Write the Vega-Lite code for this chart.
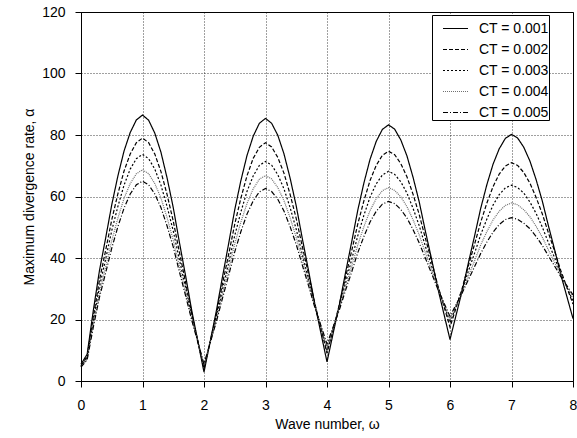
{
"$schema": "https://vega.github.io/schema/vega-lite/v6.json",
"width": 492, "height": 369,
"autosize": {"type": "none"},
"padding": {"left": 81, "top": 12, "right": 4, "bottom": 57},
"background": "white",
"config": {
  "font": "Liberation Sans",
  "view": {"stroke": "black", "strokeWidth": 1},
  "axis": {"labelFont": "Liberation Sans", "labelFontSize": 14, "labelColor": "black", "titleFont": "Liberation Sans", "titleFontSize": 14, "titleFontWeight": "normal", "titleColor": "black", "domainColor": "black", "tickColor": "black", "tickSize": 6, "gridColor": "#000", "gridDash": [1, 2], "gridWidth": 1, "gridOpacity": 0.75},
  "legend": {"orient": "none", "legendX": 351, "legendY": 3, "strokeColor": "black", "fillColor": "white", "padding": 0, "cornerRadius": 0, "symbolType": "stroke", "symbolSize": 625, "symbolStrokeWidth": 1.2, "symbolOffset": 10, "labelOffset": 10, "labelFontSize": 14, "labelFont": "Liberation Sans", "labelColor": "black", "rowPadding": -5}
},
"data": {"values": [
{"w":0,"a":5.5,"c":"CT = 0.001"},{"w":0.1,"a":8.7,"c":"CT = 0.001"},{"w":0.2,"a":22.9,"c":"CT = 0.001"},{"w":0.3,"a":35.9,"c":"CT = 0.001"},{"w":0.4,"a":46.4,"c":"CT = 0.001"},{"w":0.5,"a":57.3,"c":"CT = 0.001"},{"w":0.6,"a":66.7,"c":"CT = 0.001"},{"w":0.7,"a":74.8,"c":"CT = 0.001"},{"w":0.8,"a":80.8,"c":"CT = 0.001"},{"w":0.9,"a":84.9,"c":"CT = 0.001"},
{"w":1.0,"a":86.5,"c":"CT = 0.001"},{"w":1.1,"a":84.8,"c":"CT = 0.001"},{"w":1.2,"a":80.6,"c":"CT = 0.001"},{"w":1.3,"a":74.4,"c":"CT = 0.001"},{"w":1.4,"a":66.0,"c":"CT = 0.001"},{"w":1.5,"a":56.4,"c":"CT = 0.001"},{"w":1.6,"a":45.1,"c":"CT = 0.001"},{"w":1.7,"a":34.3,"c":"CT = 0.001"},{"w":1.8,"a":23.0,"c":"CT = 0.001"},{"w":1.9,"a":12.9,"c":"CT = 0.001"},
{"w":2.0,"a":2.9,"c":"CT = 0.001"},{"w":2.1,"a":12.8,"c":"CT = 0.001"},{"w":2.2,"a":22.7,"c":"CT = 0.001"},{"w":2.3,"a":33.8,"c":"CT = 0.001"},{"w":2.4,"a":44.6,"c":"CT = 0.001"},{"w":2.5,"a":55.7,"c":"CT = 0.001"},{"w":2.6,"a":65.2,"c":"CT = 0.001"},{"w":2.7,"a":73.4,"c":"CT = 0.001"},{"w":2.8,"a":79.6,"c":"CT = 0.001"},{"w":2.9,"a":83.8,"c":"CT = 0.001"},
{"w":3.0,"a":85.4,"c":"CT = 0.001"},{"w":3.1,"a":83.8,"c":"CT = 0.001"},{"w":3.2,"a":79.9,"c":"CT = 0.001"},{"w":3.3,"a":73.9,"c":"CT = 0.001"},{"w":3.4,"a":66.0,"c":"CT = 0.001"},{"w":3.5,"a":56.9,"c":"CT = 0.001"},{"w":3.6,"a":46.2,"c":"CT = 0.001"},{"w":3.7,"a":35.9,"c":"CT = 0.001"},{"w":3.8,"a":25.2,"c":"CT = 0.001"},{"w":3.9,"a":15.7,"c":"CT = 0.001"},
{"w":4.0,"a":6.2,"c":"CT = 0.001"},{"w":4.1,"a":15.5,"c":"CT = 0.001"},{"w":4.2,"a":24.7,"c":"CT = 0.001"},{"w":4.3,"a":35.1,"c":"CT = 0.001"},{"w":4.4,"a":45.1,"c":"CT = 0.001"},{"w":4.5,"a":55.5,"c":"CT = 0.001"},{"w":4.6,"a":64.4,"c":"CT = 0.001"},{"w":4.7,"a":72.1,"c":"CT = 0.001"},{"w":4.8,"a":77.9,"c":"CT = 0.001"},{"w":4.9,"a":81.8,"c":"CT = 0.001"},
{"w":5.0,"a":83.3,"c":"CT = 0.001"},{"w":5.1,"a":81.9,"c":"CT = 0.001"},{"w":5.2,"a":78.4,"c":"CT = 0.001"},{"w":5.3,"a":73.2,"c":"CT = 0.001"},{"w":5.4,"a":66.2,"c":"CT = 0.001"},{"w":5.5,"a":58.2,"c":"CT = 0.001"},{"w":5.6,"a":48.7,"c":"CT = 0.001"},{"w":5.7,"a":39.7,"c":"CT = 0.001"},{"w":5.8,"a":30.3,"c":"CT = 0.001"},{"w":5.9,"a":21.9,"c":"CT = 0.001"},
{"w":6.0,"a":13.5,"c":"CT = 0.001"},{"w":6.1,"a":21.5,"c":"CT = 0.001"},{"w":6.2,"a":29.5,"c":"CT = 0.001"},{"w":6.3,"a":38.5,"c":"CT = 0.001"},{"w":6.4,"a":47.2,"c":"CT = 0.001"},{"w":6.5,"a":56.2,"c":"CT = 0.001"},{"w":6.6,"a":63.9,"c":"CT = 0.001"},{"w":6.7,"a":70.5,"c":"CT = 0.001"},{"w":6.8,"a":75.5,"c":"CT = 0.001"},{"w":6.9,"a":78.9,"c":"CT = 0.001"},
{"w":7.0,"a":80.2,"c":"CT = 0.001"},{"w":7.1,"a":79.0,"c":"CT = 0.001"},{"w":7.2,"a":76.0,"c":"CT = 0.001"},{"w":7.3,"a":71.5,"c":"CT = 0.001"},{"w":7.4,"a":65.5,"c":"CT = 0.001"},{"w":7.5,"a":58.6,"c":"CT = 0.001"},{"w":7.6,"a":50.5,"c":"CT = 0.001"},{"w":7.7,"a":42.8,"c":"CT = 0.001"},{"w":7.8,"a":34.7,"c":"CT = 0.001"},{"w":7.9,"a":27.5,"c":"CT = 0.001"},{"w":8.0,"a":20.3,"c":"CT = 0.001"},

{"w":0,"a":5.0,"c":"CT = 0.002"},{"w":0.1,"a":8.0,"c":"CT = 0.002"},{"w":0.2,"a":20.9,"c":"CT = 0.002"},{"w":0.3,"a":32.8,"c":"CT = 0.002"},{"w":0.4,"a":42.4,"c":"CT = 0.002"},{"w":0.5,"a":52.4,"c":"CT = 0.002"},{"w":0.6,"a":60.9,"c":"CT = 0.002"},{"w":0.7,"a":68.3,"c":"CT = 0.002"},{"w":0.8,"a":73.8,"c":"CT = 0.002"},{"w":0.9,"a":77.5,"c":"CT = 0.002"},
{"w":1.0,"a":79.0,"c":"CT = 0.002"},{"w":1.1,"a":77.5,"c":"CT = 0.002"},{"w":1.2,"a":73.8,"c":"CT = 0.002"},{"w":1.3,"a":68.1,"c":"CT = 0.002"},{"w":1.4,"a":60.6,"c":"CT = 0.002"},{"w":1.5,"a":52.0,"c":"CT = 0.002"},{"w":1.6,"a":41.9,"c":"CT = 0.002"},{"w":1.7,"a":32.1,"c":"CT = 0.002"},{"w":1.8,"a":22.0,"c":"CT = 0.002"},{"w":1.9,"a":13.0,"c":"CT = 0.002"},
{"w":2.0,"a":4.0,"c":"CT = 0.002"},{"w":2.1,"a":12.8,"c":"CT = 0.002"},{"w":2.2,"a":21.6,"c":"CT = 0.002"},{"w":2.3,"a":31.6,"c":"CT = 0.002"},{"w":2.4,"a":41.1,"c":"CT = 0.002"},{"w":2.5,"a":51.0,"c":"CT = 0.002"},{"w":2.6,"a":59.5,"c":"CT = 0.002"},{"w":2.7,"a":66.8,"c":"CT = 0.002"},{"w":2.8,"a":72.4,"c":"CT = 0.002"},{"w":2.9,"a":76.0,"c":"CT = 0.002"},
{"w":3.0,"a":77.5,"c":"CT = 0.002"},{"w":3.1,"a":76.1,"c":"CT = 0.002"},{"w":3.2,"a":72.7,"c":"CT = 0.002"},{"w":3.3,"a":67.6,"c":"CT = 0.002"},{"w":3.4,"a":60.7,"c":"CT = 0.002"},{"w":3.5,"a":52.8,"c":"CT = 0.002"},{"w":3.6,"a":43.6,"c":"CT = 0.002"},{"w":3.7,"a":34.7,"c":"CT = 0.002"},{"w":3.8,"a":25.4,"c":"CT = 0.002"},{"w":3.9,"a":17.2,"c":"CT = 0.002"},
{"w":4.0,"a":9.0,"c":"CT = 0.002"},{"w":4.1,"a":16.9,"c":"CT = 0.002"},{"w":4.2,"a":24.8,"c":"CT = 0.002"},{"w":4.3,"a":33.6,"c":"CT = 0.002"},{"w":4.4,"a":42.2,"c":"CT = 0.002"},{"w":4.5,"a":51.0,"c":"CT = 0.002"},{"w":4.6,"a":58.6,"c":"CT = 0.002"},{"w":4.7,"a":65.2,"c":"CT = 0.002"},{"w":4.8,"a":70.1,"c":"CT = 0.002"},{"w":4.9,"a":73.4,"c":"CT = 0.002"},
{"w":5.0,"a":74.7,"c":"CT = 0.002"},{"w":5.1,"a":73.6,"c":"CT = 0.002"},{"w":5.2,"a":70.7,"c":"CT = 0.002"},{"w":5.3,"a":66.4,"c":"CT = 0.002"},{"w":5.4,"a":60.7,"c":"CT = 0.002"},{"w":5.5,"a":54.1,"c":"CT = 0.002"},{"w":5.6,"a":46.4,"c":"CT = 0.002"},{"w":5.7,"a":39.0,"c":"CT = 0.002"},{"w":5.8,"a":31.2,"c":"CT = 0.002"},{"w":5.9,"a":24.4,"c":"CT = 0.002"},
{"w":6.0,"a":17.5,"c":"CT = 0.002"},{"w":6.1,"a":23.9,"c":"CT = 0.002"},{"w":6.2,"a":30.3,"c":"CT = 0.002"},{"w":6.3,"a":37.6,"c":"CT = 0.002"},{"w":6.4,"a":44.5,"c":"CT = 0.002"},{"w":6.5,"a":51.7,"c":"CT = 0.002"},{"w":6.6,"a":57.9,"c":"CT = 0.002"},{"w":6.7,"a":63.2,"c":"CT = 0.002"},{"w":6.8,"a":67.3,"c":"CT = 0.002"},{"w":6.9,"a":69.9,"c":"CT = 0.002"},
{"w":7.0,"a":71.0,"c":"CT = 0.002"},{"w":7.1,"a":70.1,"c":"CT = 0.002"},{"w":7.2,"a":67.8,"c":"CT = 0.002"},{"w":7.3,"a":64.3,"c":"CT = 0.002"},{"w":7.4,"a":59.7,"c":"CT = 0.002"},{"w":7.5,"a":54.4,"c":"CT = 0.002"},{"w":7.6,"a":48.2,"c":"CT = 0.002"},{"w":7.7,"a":42.3,"c":"CT = 0.002"},{"w":7.8,"a":36.0,"c":"CT = 0.002"},{"w":7.9,"a":30.5,"c":"CT = 0.002"},{"w":8.0,"a":25.0,"c":"CT = 0.002"},

{"w":0,"a":4.8,"c":"CT = 0.003"},{"w":0.1,"a":7.6,"c":"CT = 0.003"},{"w":0.2,"a":19.6,"c":"CT = 0.003"},{"w":0.3,"a":30.6,"c":"CT = 0.003"},{"w":0.4,"a":39.6,"c":"CT = 0.003"},{"w":0.5,"a":48.9,"c":"CT = 0.003"},{"w":0.6,"a":56.8,"c":"CT = 0.003"},{"w":0.7,"a":63.7,"c":"CT = 0.003"},{"w":0.8,"a":68.9,"c":"CT = 0.003"},{"w":0.9,"a":72.3,"c":"CT = 0.003"},
{"w":1.0,"a":73.7,"c":"CT = 0.003"},{"w":1.1,"a":72.3,"c":"CT = 0.003"},{"w":1.2,"a":68.9,"c":"CT = 0.003"},{"w":1.3,"a":63.7,"c":"CT = 0.003"},{"w":1.4,"a":56.7,"c":"CT = 0.003"},{"w":1.5,"a":48.8,"c":"CT = 0.003"},{"w":1.6,"a":39.4,"c":"CT = 0.003"},{"w":1.7,"a":30.5,"c":"CT = 0.003"},{"w":1.8,"a":21.1,"c":"CT = 0.003"},{"w":1.9,"a":12.8,"c":"CT = 0.003"},
{"w":2.0,"a":4.5,"c":"CT = 0.003"},{"w":2.1,"a":12.5,"c":"CT = 0.003"},{"w":2.2,"a":20.6,"c":"CT = 0.003"},{"w":2.3,"a":29.6,"c":"CT = 0.003"},{"w":2.4,"a":38.3,"c":"CT = 0.003"},{"w":2.5,"a":47.3,"c":"CT = 0.003"},{"w":2.6,"a":55.0,"c":"CT = 0.003"},{"w":2.7,"a":61.7,"c":"CT = 0.003"},{"w":2.8,"a":66.7,"c":"CT = 0.003"},{"w":2.9,"a":70.1,"c":"CT = 0.003"},
{"w":3.0,"a":71.4,"c":"CT = 0.003"},{"w":3.1,"a":70.2,"c":"CT = 0.003"},{"w":3.2,"a":67.1,"c":"CT = 0.003"},{"w":3.3,"a":62.5,"c":"CT = 0.003"},{"w":3.4,"a":56.4,"c":"CT = 0.003"},{"w":3.5,"a":49.3,"c":"CT = 0.003"},{"w":3.6,"a":41.0,"c":"CT = 0.003"},{"w":3.7,"a":33.0,"c":"CT = 0.003"},{"w":3.8,"a":24.7,"c":"CT = 0.003"},{"w":3.9,"a":17.4,"c":"CT = 0.003"},
{"w":4.0,"a":10.0,"c":"CT = 0.003"},{"w":4.1,"a":17.0,"c":"CT = 0.003"},{"w":4.2,"a":24.0,"c":"CT = 0.003"},{"w":4.3,"a":31.8,"c":"CT = 0.003"},{"w":4.4,"a":39.4,"c":"CT = 0.003"},{"w":4.5,"a":47.2,"c":"CT = 0.003"},{"w":4.6,"a":53.9,"c":"CT = 0.003"},{"w":4.7,"a":59.8,"c":"CT = 0.003"},{"w":4.8,"a":64.1,"c":"CT = 0.003"},{"w":4.9,"a":67.0,"c":"CT = 0.003"},
{"w":5.0,"a":68.2,"c":"CT = 0.003"},{"w":5.1,"a":67.2,"c":"CT = 0.003"},{"w":5.2,"a":64.8,"c":"CT = 0.003"},{"w":5.3,"a":61.1,"c":"CT = 0.003"},{"w":5.4,"a":56.1,"c":"CT = 0.003"},{"w":5.5,"a":50.5,"c":"CT = 0.003"},{"w":5.6,"a":43.8,"c":"CT = 0.003"},{"w":5.7,"a":37.5,"c":"CT = 0.003"},{"w":5.8,"a":30.8,"c":"CT = 0.003"},{"w":5.9,"a":24.9,"c":"CT = 0.003"},
{"w":6.0,"a":19.0,"c":"CT = 0.003"},{"w":6.1,"a":24.4,"c":"CT = 0.003"},{"w":6.2,"a":29.7,"c":"CT = 0.003"},{"w":6.3,"a":35.8,"c":"CT = 0.003"},{"w":6.4,"a":41.6,"c":"CT = 0.003"},{"w":6.5,"a":47.6,"c":"CT = 0.003"},{"w":6.6,"a":52.7,"c":"CT = 0.003"},{"w":6.7,"a":57.2,"c":"CT = 0.003"},{"w":6.8,"a":60.6,"c":"CT = 0.003"},{"w":6.9,"a":62.8,"c":"CT = 0.003"},
{"w":7.0,"a":63.7,"c":"CT = 0.003"},{"w":7.1,"a":62.9,"c":"CT = 0.003"},{"w":7.2,"a":61.1,"c":"CT = 0.003"},{"w":7.3,"a":58.2,"c":"CT = 0.003"},{"w":7.4,"a":54.5,"c":"CT = 0.003"},{"w":7.5,"a":50.1,"c":"CT = 0.003"},{"w":7.6,"a":45.0,"c":"CT = 0.003"},{"w":7.7,"a":40.1,"c":"CT = 0.003"},{"w":7.8,"a":35.0,"c":"CT = 0.003"},{"w":7.9,"a":30.5,"c":"CT = 0.003"},{"w":8.0,"a":26.0,"c":"CT = 0.003"},

{"w":0,"a":4.6,"c":"CT = 0.004"},{"w":0.1,"a":7.2,"c":"CT = 0.004"},{"w":0.2,"a":18.4,"c":"CT = 0.004"},{"w":0.3,"a":28.6,"c":"CT = 0.004"},{"w":0.4,"a":37.0,"c":"CT = 0.004"},{"w":0.5,"a":45.6,"c":"CT = 0.004"},{"w":0.6,"a":53.0,"c":"CT = 0.004"},{"w":0.7,"a":59.4,"c":"CT = 0.004"},{"w":0.8,"a":64.2,"c":"CT = 0.004"},{"w":0.9,"a":67.4,"c":"CT = 0.004"},
{"w":1.0,"a":68.7,"c":"CT = 0.004"},{"w":1.1,"a":67.4,"c":"CT = 0.004"},{"w":1.2,"a":64.2,"c":"CT = 0.004"},{"w":1.3,"a":59.5,"c":"CT = 0.004"},{"w":1.4,"a":53.1,"c":"CT = 0.004"},{"w":1.5,"a":45.8,"c":"CT = 0.004"},{"w":1.6,"a":37.2,"c":"CT = 0.004"},{"w":1.7,"a":28.9,"c":"CT = 0.004"},{"w":1.8,"a":20.3,"c":"CT = 0.004"},{"w":1.9,"a":12.6,"c":"CT = 0.004"},
{"w":2.0,"a":5.0,"c":"CT = 0.004"},{"w":2.1,"a":12.4,"c":"CT = 0.004"},{"w":2.2,"a":19.8,"c":"CT = 0.004"},{"w":2.3,"a":28.2,"c":"CT = 0.004"},{"w":2.4,"a":36.2,"c":"CT = 0.004"},{"w":2.5,"a":44.6,"c":"CT = 0.004"},{"w":2.6,"a":51.7,"c":"CT = 0.004"},{"w":2.7,"a":57.8,"c":"CT = 0.004"},{"w":2.8,"a":62.5,"c":"CT = 0.004"},{"w":2.9,"a":65.6,"c":"CT = 0.004"},
{"w":3.0,"a":66.8,"c":"CT = 0.004"},{"w":3.1,"a":65.7,"c":"CT = 0.004"},{"w":3.2,"a":62.9,"c":"CT = 0.004"},{"w":3.3,"a":58.7,"c":"CT = 0.004"},{"w":3.4,"a":53.1,"c":"CT = 0.004"},{"w":3.5,"a":46.7,"c":"CT = 0.004"},{"w":3.6,"a":39.2,"c":"CT = 0.004"},{"w":3.7,"a":31.9,"c":"CT = 0.004"},{"w":3.8,"a":24.4,"c":"CT = 0.004"},{"w":3.9,"a":17.7,"c":"CT = 0.004"},
{"w":4.0,"a":11.0,"c":"CT = 0.004"},{"w":4.1,"a":17.2,"c":"CT = 0.004"},{"w":4.2,"a":23.5,"c":"CT = 0.004"},{"w":4.3,"a":30.5,"c":"CT = 0.004"},{"w":4.4,"a":37.2,"c":"CT = 0.004"},{"w":4.5,"a":44.2,"c":"CT = 0.004"},{"w":4.6,"a":50.2,"c":"CT = 0.004"},{"w":4.7,"a":55.4,"c":"CT = 0.004"},{"w":4.8,"a":59.3,"c":"CT = 0.004"},{"w":4.9,"a":61.9,"c":"CT = 0.004"},
{"w":5.0,"a":62.9,"c":"CT = 0.004"},{"w":5.1,"a":62.0,"c":"CT = 0.004"},{"w":5.2,"a":59.9,"c":"CT = 0.004"},{"w":5.3,"a":56.7,"c":"CT = 0.004"},{"w":5.4,"a":52.4,"c":"CT = 0.004"},{"w":5.5,"a":47.5,"c":"CT = 0.004"},{"w":5.6,"a":41.7,"c":"CT = 0.004"},{"w":5.7,"a":36.1,"c":"CT = 0.004"},{"w":5.8,"a":30.3,"c":"CT = 0.004"},{"w":5.9,"a":25.1,"c":"CT = 0.004"},
{"w":6.0,"a":20.0,"c":"CT = 0.004"},{"w":6.1,"a":24.5,"c":"CT = 0.004"},{"w":6.2,"a":29.1,"c":"CT = 0.004"},{"w":6.3,"a":34.2,"c":"CT = 0.004"},{"w":6.4,"a":39.1,"c":"CT = 0.004"},{"w":6.5,"a":44.3,"c":"CT = 0.004"},{"w":6.6,"a":48.6,"c":"CT = 0.004"},{"w":6.7,"a":52.4,"c":"CT = 0.004"},{"w":6.8,"a":55.2,"c":"CT = 0.004"},{"w":6.9,"a":57.1,"c":"CT = 0.004"},
{"w":7.0,"a":57.9,"c":"CT = 0.004"},{"w":7.1,"a":57.3,"c":"CT = 0.004"},{"w":7.2,"a":55.7,"c":"CT = 0.004"},{"w":7.3,"a":53.4,"c":"CT = 0.004"},{"w":7.4,"a":50.3,"c":"CT = 0.004"},{"w":7.5,"a":46.8,"c":"CT = 0.004"},{"w":7.6,"a":42.6,"c":"CT = 0.004"},{"w":7.7,"a":38.6,"c":"CT = 0.004"},{"w":7.8,"a":34.4,"c":"CT = 0.004"},{"w":7.9,"a":30.7,"c":"CT = 0.004"},{"w":8.0,"a":27.0,"c":"CT = 0.004"},

{"w":0,"a":4.5,"c":"CT = 0.005"},{"w":0.1,"a":6.9,"c":"CT = 0.005"},{"w":0.2,"a":17.5,"c":"CT = 0.005"},{"w":0.3,"a":27.2,"c":"CT = 0.005"},{"w":0.4,"a":35.1,"c":"CT = 0.005"},{"w":0.5,"a":43.2,"c":"CT = 0.005"},{"w":0.6,"a":50.2,"c":"CT = 0.005"},{"w":0.7,"a":56.2,"c":"CT = 0.005"},{"w":0.8,"a":60.8,"c":"CT = 0.005"},{"w":0.9,"a":63.8,"c":"CT = 0.005"},
{"w":1.0,"a":65.0,"c":"CT = 0.005"},{"w":1.1,"a":63.8,"c":"CT = 0.005"},{"w":1.2,"a":60.8,"c":"CT = 0.005"},{"w":1.3,"a":56.4,"c":"CT = 0.005"},{"w":1.4,"a":50.4,"c":"CT = 0.005"},{"w":1.5,"a":43.6,"c":"CT = 0.005"},{"w":1.6,"a":35.5,"c":"CT = 0.005"},{"w":1.7,"a":27.8,"c":"CT = 0.005"},{"w":1.8,"a":19.8,"c":"CT = 0.005"},{"w":1.9,"a":12.6,"c":"CT = 0.005"},
{"w":2.0,"a":5.5,"c":"CT = 0.005"},{"w":2.1,"a":12.4,"c":"CT = 0.005"},{"w":2.2,"a":19.2,"c":"CT = 0.005"},{"w":2.3,"a":26.9,"c":"CT = 0.005"},{"w":2.4,"a":34.3,"c":"CT = 0.005"},{"w":2.5,"a":42.0,"c":"CT = 0.005"},{"w":2.6,"a":48.6,"c":"CT = 0.005"},{"w":2.7,"a":54.3,"c":"CT = 0.005"},{"w":2.8,"a":58.6,"c":"CT = 0.005"},{"w":2.9,"a":61.5,"c":"CT = 0.005"},
{"w":3.0,"a":62.6,"c":"CT = 0.005"},{"w":3.1,"a":61.6,"c":"CT = 0.005"},{"w":3.2,"a":59.1,"c":"CT = 0.005"},{"w":3.3,"a":55.3,"c":"CT = 0.005"},{"w":3.4,"a":50.2,"c":"CT = 0.005"},{"w":3.5,"a":44.4,"c":"CT = 0.005"},{"w":3.6,"a":37.6,"c":"CT = 0.005"},{"w":3.7,"a":31.0,"c":"CT = 0.005"},{"w":3.8,"a":24.1,"c":"CT = 0.005"},{"w":3.9,"a":18.1,"c":"CT = 0.005"},
{"w":4.0,"a":12.0,"c":"CT = 0.005"},{"w":4.1,"a":17.6,"c":"CT = 0.005"},{"w":4.2,"a":23.1,"c":"CT = 0.005"},{"w":4.3,"a":29.4,"c":"CT = 0.005"},{"w":4.4,"a":35.4,"c":"CT = 0.005"},{"w":4.5,"a":41.7,"c":"CT = 0.005"},{"w":4.6,"a":47.0,"c":"CT = 0.005"},{"w":4.7,"a":51.7,"c":"CT = 0.005"},{"w":4.8,"a":55.2,"c":"CT = 0.005"},{"w":4.9,"a":57.5,"c":"CT = 0.005"},
{"w":5.0,"a":58.4,"c":"CT = 0.005"},{"w":5.1,"a":57.7,"c":"CT = 0.005"},{"w":5.2,"a":55.8,"c":"CT = 0.005"},{"w":5.3,"a":53.0,"c":"CT = 0.005"},{"w":5.4,"a":49.2,"c":"CT = 0.005"},{"w":5.5,"a":44.9,"c":"CT = 0.005"},{"w":5.6,"a":39.9,"c":"CT = 0.005"},{"w":5.7,"a":35.0,"c":"CT = 0.005"},{"w":5.8,"a":30.0,"c":"CT = 0.005"},{"w":5.9,"a":25.5,"c":"CT = 0.005"},
{"w":6.0,"a":21.0,"c":"CT = 0.005"},{"w":6.1,"a":24.9,"c":"CT = 0.005"},{"w":6.2,"a":28.7,"c":"CT = 0.005"},{"w":6.3,"a":33.0,"c":"CT = 0.005"},{"w":6.4,"a":37.2,"c":"CT = 0.005"},{"w":6.5,"a":41.5,"c":"CT = 0.005"},{"w":6.6,"a":45.2,"c":"CT = 0.005"},{"w":6.7,"a":48.4,"c":"CT = 0.005"},{"w":6.8,"a":50.9,"c":"CT = 0.005"},{"w":6.9,"a":52.5,"c":"CT = 0.005"},
{"w":7.0,"a":53.1,"c":"CT = 0.005"},{"w":7.1,"a":52.6,"c":"CT = 0.005"},{"w":7.2,"a":51.3,"c":"CT = 0.005"},{"w":7.3,"a":49.5,"c":"CT = 0.005"},{"w":7.4,"a":47.0,"c":"CT = 0.005"},{"w":7.5,"a":44.1,"c":"CT = 0.005"},{"w":7.6,"a":40.7,"c":"CT = 0.005"},{"w":7.7,"a":37.4,"c":"CT = 0.005"},{"w":7.8,"a":34.0,"c":"CT = 0.005"},{"w":7.9,"a":31.0,"c":"CT = 0.005"},{"w":8.0,"a":28.0,"c":"CT = 0.005"}
]},
"mark": {"type": "line", "strokeWidth": 1.2},
"encoding": {
  "x": {"field": "w", "type": "quantitative", "scale": {"domain": [0, 8], "nice": false}, "axis": {"values": [0,1,2,3,4,5,6,7,8], "title": "Wave number, ω", "labelPadding": 11, "titlePadding": 5, "labelFlush": false}},
  "y": {"field": "a", "type": "quantitative", "scale": {"domain": [0, 120], "nice": false}, "axis": {"values": [0,20,40,60,80,100,120], "title": "Maximum divergence rate, α", "labelPadding": 10, "titlePadding": 5}},
  "color": {"field": "c", "type": "nominal", "scale": {"domain": ["CT = 0.001","CT = 0.002","CT = 0.003","CT = 0.004","CT = 0.005"], "range": ["#000000","#000000","#000000","#707070","#000000"]}, "title": null, "legend": {"labelExpr": "datum.label + '\u00a0\u00a0\u00a0\u00a0\u00a0\u00a0'"}},
  "strokeDash": {"field": "c", "type": "nominal", "scale": {"domain": ["CT = 0.001","CT = 0.002","CT = 0.003","CT = 0.004","CT = 0.005"], "range": [[1,0],[4,2],[2,2],[1,1],[5,2,1,2]]}, "title": null, "legend": {"labelExpr": "datum.label + '\u00a0\u00a0\u00a0\u00a0\u00a0\u00a0'"}}
}
}
